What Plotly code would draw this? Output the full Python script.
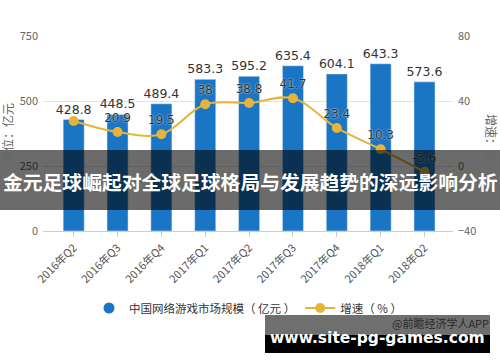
import plotly.graph_objects as go

categories = ["2016年Q2", "2016年Q3", "2016年Q4", "2017年Q1", "2017年Q2",
              "2017年Q3", "2017年Q4", "2018年Q1", "2018年Q2"]
market_size = [428.8, 448.5, 489.4, 583.3, 595.2, 635.4, 604.1, 643.3, 573.6]
growth = [27.7, 20.9, 19.5, 38, 38.8, 41.7, 23.4, 10.3, -3.6]
growth_labels = ["", "20.9", "19.5", "38", "38.8", "41.7", "23.4", "10.3", "-3.6"]
left_ticks = [0, 250, 500, 750]
right_ticks = [-40, 0, 40, 80]

BLUE = "#1a75c4"
GOLD = "#e6b43c"
FONT = "Noto Sans CJK SC, Noto Sans, sans-serif"

fig = go.Figure()
fig.add_trace(go.Bar(
    x=categories, y=market_size, name="中国网络游戏市场规模（ 亿元 ）",
    marker=dict(color=BLUE), width=0.48, showlegend=False,
    text=[f"{v}" for v in market_size], textposition="outside", constraintext="none",
    textfont=dict(size=12.5, color="#333333", family="DejaVu Sans, sans-serif"),
    cliponaxis=False,
))
fig.add_trace(go.Scatter(
    x=[None], y=[None], mode="markers", name="中国网络游戏市场规模（ 亿元 ）",
    marker=dict(color=BLUE, size=11, symbol="circle"),
))
fig.add_trace(go.Scatter(
    x=categories, y=growth, name="增速（ % ）", yaxis="y2",
    mode="lines+markers+text",
    line=dict(color=GOLD, width=2, shape="spline", smoothing=1.0),
    marker=dict(color=GOLD, size=10),
    text=growth_labels, textposition="top center",
    textfont=dict(size=12, color="#333333", family="DejaVu Sans, sans-serif",
                  shadow="0px 0px 2px white"),
    cliponaxis=False,
))

W, H = 500, 362
L, R, T, B = 43, 47, 36, 131
pw, ph = W - L - R, H - T - B

def px(x):
    return (x - L) / pw

def py(y):
    return (H - B - y) / ph

shapes = [
    dict(type="rect", xref="paper", yref="paper", x0=px(-5), x1=px(505),
         y0=py(210), y1=py(150), fillcolor="rgba(0,0,0,0.58)", line=dict(width=0),
         layer="above"),
]

annotations = [
    dict(text="单位：亿元", xref="paper", yref="paper", x=px(7), y=py(133),
         xanchor="center", yanchor="middle",
         textangle=-90, showarrow=False, font=dict(size=12, color="#666666", family=FONT)),
    dict(text="增速：%", xref="paper", yref="paper", x=px(492), y=py(137),
         xanchor="center", yanchor="middle",
         textangle=90, showarrow=False, font=dict(size=12, color="#666666", family=FONT)),
    dict(text="金元足球崛起对全球足球格局与发展趋势的深远影响分析", xref="paper", yref="paper",
         x=px(250), y=py(181), xanchor="center", yanchor="middle", showarrow=False,
         font=dict(size=19.8, color="white", family=FONT, weight="bold")),
    # gray strip
    dict(text=" ", xref="paper", yref="paper", x=px(265), y=py(315),
         xanchor="left", yanchor="top", width=225, height=20,
         bgcolor="#6f6f6f", borderpad=0, borderwidth=0, showarrow=False,
         font=dict(size=8)),
    # black strip
    dict(text=" ", xref="paper", yref="paper", x=px(265), y=py(335),
         xanchor="left", yanchor="top", width=225, height=18, bgcolor="#000000",
         borderpad=0, borderwidth=0, showarrow=False, font=dict(size=8)),
    dict(text="@前瞻经济学人APP", xref="paper", yref="paper", x=px(491), y=py(323),
         xanchor="right", yanchor="middle", showarrow=False,
         font=dict(size=11, color="#2a2a2a", family=FONT)),
    dict(text="www.site-pg-games.com", xref="paper", yref="paper", x=px(377), y=py(338),
         xanchor="center", yanchor="middle", showarrow=False,
         font=dict(size=15.5, color="white", family="DejaVu Sans, sans-serif", weight="bold")),
]

fig.update_layout(
    width=W, height=H, margin=dict(l=L, r=R, t=T, b=B, autoexpand=False),
    paper_bgcolor="white", plot_bgcolor="white",
    font=dict(family=FONT, color="#666666", size=11),
    xaxis=dict(type="category", range=[-0.7, 8.65], showline=True, linecolor="#cccccc",
               ticks="outside", ticklen=5, tickcolor="#cccccc", tickangle=-45,
               tickfont=dict(size=11, color="#555555"), showgrid=False, automargin=False),
    yaxis=dict(range=[0, 750], tickvals=left_ticks, showgrid=True, gridcolor="#e3e3e3",
               zeroline=False, tickfont=dict(size=11, color="#666666"), ticklabelstandoff=4,
               automargin=False),
    yaxis2=dict(range=[-40, 80], tickvals=right_ticks, overlaying="y", side="right",
                showgrid=False, zeroline=False, tickfont=dict(size=11, color="#666666"),
                ticklabelstandoff=4, automargin=False),
    legend=dict(orientation="h", x=0.5, xanchor="center", y=py(308), yanchor="middle",
                font=dict(size=11.5, color="#333333", family=FONT), bgcolor="rgba(0,0,0,0)",
                traceorder="normal"),
    showlegend=True,
    shapes=shapes,
    annotations=annotations,
)

fig.write_html("out.html", config={"displayModeBar": False},
               post_script="document.body.style.margin='0px';document.body.style.padding='0px';")
